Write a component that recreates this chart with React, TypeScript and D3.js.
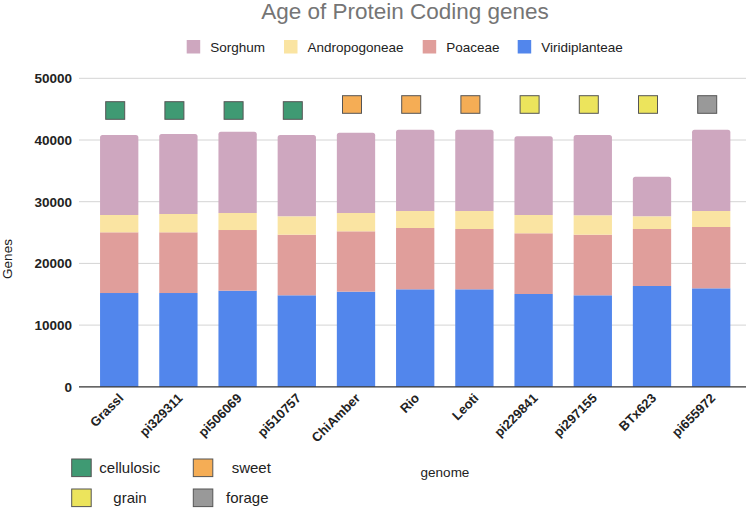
import React from "react";
import * as d3 from "d3";

const genomes = ["Grassl", "pi329311", "pi506069", "pi510757", "ChiAmber", "Rio", "Leoti", "pi229841", "pi297155", "BTx623", "pi655972"];
const viridiplanteae = [15200, 15200, 15580, 14830, 15420, 15800, 15800, 15040, 14830, 16340, 15960];
const poaceae = [9840, 9840, 9830, 9820, 9780, 9940, 9775, 9840, 9820, 9235, 9940];
const andropogoneae = [2805, 2970, 2760, 2980, 2970, 2750, 2915, 2965, 3145, 2055, 2590];
const sorghum = [12965, 12960, 13180, 13180, 13020, 13180, 13180, 12755, 13015, 6420, 13180];
const usageType = ["cellulosic", "cellulosic", "cellulosic", "cellulosic", "sweet", "sweet", "sweet", "grain", "grain", "grain", "forage"];
const yTicks = [0, 10000, 20000, 30000, 40000, 50000];

const seriesNames = ["Sorghum", "Andropogoneae", "Poaceae", "Viridiplanteae"];
const seriesColors: Record<string, string> = {
  Sorghum: "#cea7bf",
  Andropogoneae: "#fae4a2",
  Poaceae: "#e09e9b",
  Viridiplanteae: "#5286ec",
};
const typeNames = ["cellulosic", "sweet", "grain", "forage"];
const typeColors: Record<string, string> = {
  cellulosic: "#3f9a73",
  sweet: "#f5ad55",
  grain: "#ece45c",
  forage: "#999999",
};

const FONT = "Arial, 'Liberation Sans', Helvetica, sans-serif";

export default function App() {
  const W = 748, H = 510;
  const x = d3.scaleBand<string>().domain(genomes).range([89.6, 740.8]).paddingInner(0.353).paddingOuter(0.1765);
  const y = d3.scaleLinear().domain([0, 50000]).range([386.8, 78.3]);

  const rows = genomes.map((g, i) => ({
    genome: g,
    Viridiplanteae: viridiplanteae[i],
    Poaceae: poaceae[i],
    Andropogoneae: andropogoneae[i],
    Sorghum: sorghum[i],
  }));
  const stack = d3.stack<any>().keys(["Viridiplanteae", "Poaceae", "Andropogoneae", "Sorghum"]);
  const layers = stack(rows);

  const topPath = (x0: number, x1: number, y0: number, y1: number, r: number) =>
    `M${x0},${y0}L${x0},${y1 + r}Q${x0},${y1} ${x0 + r},${y1}L${x1 - r},${y1}Q${x1},${y1} ${x1},${y1 + r}L${x1},${y0}Z`;

  const legendX = [186.7, 284, 422.7, 517.7];

  return (
    <svg width={W} height={H} style={{ position: "absolute", left: 0, top: 0, fontFamily: FONT }}>
      <rect x={0} y={0} width={W} height={H} fill="#fff" />
      <text x={405} y={18.5} textAnchor="middle" fontSize={22.5} fill="#757575">Age of Protein Coding genes</text>
      {seriesNames.map((s, i) => (
        <g key={s}>
          <rect x={legendX[i]} y={40} width={13.5} height={13.5} fill={seriesColors[s]} />
          <text x={legendX[i] + 23.5} y={51.5} fontSize={13.5} fill="#222">{s}</text>
        </g>
      ))}
      {yTicks.map((t) => (
        <g key={t}>
          {t > 0 && <line x1={79} x2={746} y1={y(t)} y2={y(t)} stroke="#d4d4d4" strokeWidth={1} />}
          <text x={72} y={y(t) + 4.8} textAnchor="end" fontSize={13.5} fontWeight="bold" fill="#222">{t}</text>
        </g>
      ))}
      <text transform={`translate(12,259) rotate(-90)`} textAnchor="middle" fontSize={13.5} fill="#222">Genes</text>
      {layers.map((layer) => (
        <g key={layer.key}>
          {layer.map((d: any, i: number) => {
            const x0 = x(genomes[i])!;
            const x1 = x0 + x.bandwidth();
            const yb = y(d[0]);
            const yt = y(d[1]);
            if (layer.key === "Sorghum") {
              return <path key={i} d={topPath(x0, x1, yb, yt, 2.5)} fill={seriesColors[layer.key]} />;
            }
            return <rect key={i} x={x0} y={yt} width={x.bandwidth()} height={yb - yt} fill={seriesColors[layer.key as string]} />;
          })}
        </g>
      ))}
      <line x1={79} x2={746} y1={y(0)} y2={y(0)} stroke="#333" strokeWidth={1.3} />
      {genomes.map((g, i) => {
        const cx = x(g)! + x.bandwidth() / 2;
        const sy = usageType[i] === "cellulosic" ? 101.7 : 95.7;
        return (
          <rect key={"s" + g} x={cx - 13.5} y={sy} width={19} height={17.6} fill={typeColors[usageType[i]]} stroke="#555" strokeWidth={1} />
        );
      })}
      {genomes.map((g) => {
        const cx = x(g)! + x.bandwidth() / 2;
        return (
          <text key={"l" + g} transform={`translate(${cx + 5},${399}) rotate(-45)`} textAnchor="end" fontSize={13} fontWeight="bold" fill="#222">{g}</text>
        );
      })}
      <text x={445} y={477} textAnchor="middle" fontSize={13.5} fill="#222">genome</text>
      {typeNames.map((t, i) => {
        const col = i % 2;
        const row = Math.floor(i / 2);
        const sx = col === 0 ? 71.7 : 193.3;
        const sy = row === 0 ? 459 : 489;
        const tx = [99.3, 231.7, 113.3, 226][i];
        return (
          <g key={t}>
            <rect x={sx} y={sy} width={19.5} height={17.6} fill={typeColors[t]} stroke="#555" strokeWidth={1} />
            <text x={tx} y={sy + 14} fontSize={15} fill="#222">{t}</text>
          </g>
        );
      })}
    </svg>
  );
}
